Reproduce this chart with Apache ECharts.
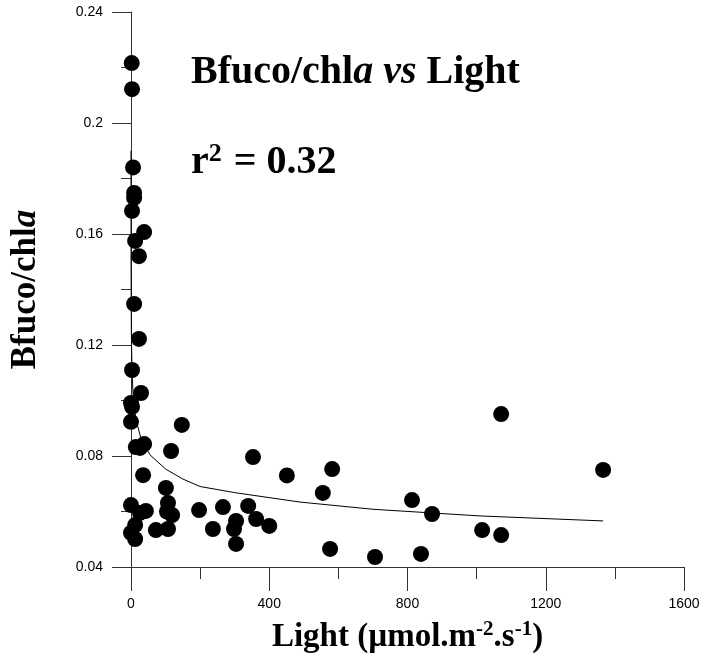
<!DOCTYPE html>
<html>
<head>
<meta charset="utf-8">
<title>Bfuco/chla vs Light</title>
<script src="https://cdn.jsdelivr.net/npm/echarts@6/dist/echarts.min.js"></script>
<style>
  html, body { margin: 0; padding: 0; background: #fff; }
  #chart { width: 704px; height: 658px; }
</style>
</head>
<body>
<div id="chart"></div>
<script>
// Observations: light (µmol m-2 s-1) and Bfuco/chla ratio
const lightValues = [
  2, 3, 6, 9, 9, 3, 38, 12, 23, 9, 23, 3, 29, 0, 3, 0,
  147, 14, 38, 26, 116, 35,
  0, 43, 26, 12, 0, 12,
  101, 107, 104, 119, 107, 72,
  197, 237, 266, 304, 298, 304, 339, 362, 400, 353, 451,
  582, 555, 576, 706, 813, 871, 839,
  1071, 1366, 1016, 1071
];
const ratioValues = [
  0.2216, 0.2122, 0.1840, 0.1748, 0.1730, 0.1683, 0.1607, 0.1575, 0.1520, 0.1348, 0.1222, 0.1110, 0.1027, 0.0991, 0.0977, 0.0923,
  0.0912, 0.0832, 0.0843, 0.0829, 0.0818, 0.0731,
  0.0623, 0.0602, 0.0595, 0.0551, 0.0523, 0.0501,
  0.0685, 0.0631, 0.0600, 0.0587, 0.0537, 0.0533,
  0.0605, 0.0537, 0.0616, 0.0566, 0.0537, 0.0483, 0.0620, 0.0573, 0.0548, 0.0796, 0.0730,
  0.0753, 0.0667, 0.0465, 0.0436, 0.0641, 0.0591, 0.0447,
  0.0951, 0.0750, 0.0533, 0.0515
];

// Fitted trend curve, sampled along the light range
const fitLight = [0.02, 0.2, 1, 3, 6, 14, 30, 55, 100, 150, 200, 300, 489, 700, 1010, 1366];
const fitRatio = [0.190, 0.148, 0.1245, 0.110, 0.1024, 0.0933, 0.0858, 0.0804, 0.0753, 0.0717, 0.0690, 0.0668, 0.0634, 0.0608, 0.0584, 0.0566];

// Axis ranges
const xRange = { min: 0, max: 1600, step: 400 };
const yRange = { min: 0.04, max: 0.24, step: 0.04 };

const points = lightValues.map((x, i) => [x, ratioValues[i]]);
const fitLine = fitLight.map((x, i) => [x, fitRatio[i]]);

const axisColor = '#333';
const serif = '"Liberation Serif", "Times New Roman", serif';
const sans = '"Liberation Sans", Arial, sans-serif';

const chart = echarts.init(document.getElementById('chart'), null, { renderer: 'canvas' });

chart.setOption({
  backgroundColor: '#fff',
  animation: false,
  title: [
    {
      left: 186, top: 48,
      text: '{b|Bfuco/chl}{i|a vs}{b| Light}',
      textStyle: {
        rich: {
          b: { fontFamily: serif, fontWeight: 'bold', fontSize: 40, color: '#000' },
          i: { fontFamily: serif, fontWeight: 'bold', fontStyle: 'italic', fontSize: 40, color: '#000' }
        }
      }
    },
    {
      left: 186, top: 136,
      text: '{b|r}{sup|2}{b| = 0.32}',
      textStyle: {
        rich: {
          b: { fontFamily: serif, fontWeight: 'bold', fontSize: 40, color: '#000', lineHeight: 44 },
          sup: { fontFamily: serif, fontWeight: 'bold', fontSize: 26, color: '#000', verticalAlign: 'top', lineHeight: 44, padding: [0, 2, 0, 0] }
        }
      }
    }
  ],
  grid: { left: 131, right: 20, top: 12, bottom: 91, containLabel: false, outerBoundsMode: 'none' },
  xAxis: {
    type: 'value',
    min: xRange.min, max: xRange.max, interval: xRange.step,
    name: '{b|Light (µmol.m}{s|-2}{b|.s}{s|-1}{b|)}',
    nameLocation: 'middle',
    nameGap: 52,
    nameTextStyle: {
      rich: {
        b: { fontFamily: serif, fontWeight: 'bold', fontSize: 33, color: '#000', lineHeight: 36 },
        s: { fontFamily: serif, fontWeight: 'bold', fontSize: 21, color: '#000', verticalAlign: 'top', lineHeight: 36 }
      }
    },
    axisLine: { show: true, onZero: false, lineStyle: { color: axisColor, width: 1 } },
    axisTick: { show: true, inside: false, length: 24, lineStyle: { color: axisColor } },
    minorTick: { show: true, splitNumber: 2, length: 12, lineStyle: { color: axisColor } },
    splitLine: { show: false },
    minorSplitLine: { show: false },
    axisLabel: { margin: 30, fontFamily: sans, fontSize: 14, color: '#000', formatter: (v) => String(v) }
  },
  yAxis: {
    type: 'value',
    min: yRange.min, max: yRange.max, interval: yRange.step,
    name: '{b|Bfuco/chl}{i|a}',
    nameLocation: 'middle',
    nameGap: 88,
    nameRotate: 90,
    nameTextStyle: {
      rich: {
        b: { fontFamily: serif, fontWeight: 'bold', fontSize: 35, color: '#000' },
        i: { fontFamily: serif, fontWeight: 'bold', fontStyle: 'italic', fontSize: 35, color: '#000' }
      }
    },
    axisLine: { show: true, onZero: false, lineStyle: { color: axisColor, width: 1 } },
    axisTick: { show: true, inside: false, length: 19, lineStyle: { color: axisColor } },
    minorTick: { show: true, splitNumber: 2, length: 10, lineStyle: { color: axisColor } },
    splitLine: { show: false },
    minorSplitLine: { show: false },
    axisLabel: { margin: 28, fontFamily: sans, fontSize: 14, color: '#000', formatter: (v) => String(Math.round(v * 100) / 100) }
  },
  series: [
    {
      name: 'Fit',
      type: 'line',
      data: fitLine,
      showSymbol: false,
      smooth: false,
      lineStyle: { color: '#000', width: 1 },
      z: 3
    },
    {
      name: 'Samples',
      type: 'scatter',
      data: points,
      symbol: 'circle',
      symbolSize: 16,
      itemStyle: { color: '#000', opacity: 1 },
      z: 4
    }
  ]
});
</script>
</body>
</html>
